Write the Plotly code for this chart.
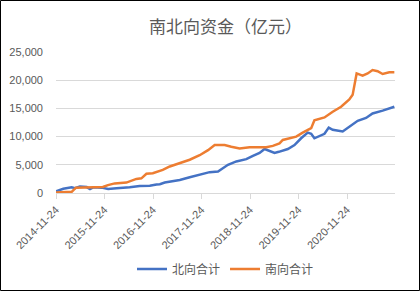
import plotly.graph_objects as go

title_text = "南北向资金（亿元）"
north_name = "北向合计"
south_name = "南向合计"

north_dates = ["2014-11-24", "2015-01-18", "2015-03-22", "2015-04-16", "2015-05-23", "2015-07-13",
               "2015-08-07", "2015-08-31", "2015-11-02", "2015-12-22", "2016-02-23", "2016-06-01",
               "2016-08-15", "2016-10-30", "2016-12-20", "2017-01-14", "2017-02-20", "2017-03-30",
               "2017-06-13", "2017-08-27", "2017-11-10", "2018-01-24", "2018-03-28", "2018-06-11",
               "2018-08-13", "2018-10-27", "2018-12-16", "2019-02-04", "2019-03-14", "2019-04-20",
               "2019-05-28", "2019-06-29", "2019-09-05", "2019-10-25", "2019-12-14", "2020-02-02",
               "2020-02-28", "2020-03-23", "2020-04-30", "2020-06-07", "2020-07-09", "2020-08-08",
               "2020-10-22", "2020-12-11", "2021-02-12", "2021-04-16", "2021-06-04", "2021-08-19",
               "2021-11-15"]
north_values = [300, 750, 1000, 850, 1150, 1050,
                700, 1000, 950, 700, 850, 1000,
                1250, 1300, 1500, 1550, 1850, 2000,
                2300, 2800, 3300, 3700, 3800, 5000,
                5600, 6000, 6600, 7100, 7800, 7500,
                7100, 7300, 7800, 8500, 9700, 10700,
                10500, 9700, 10100, 10500, 11600, 11200,
                10900, 11800, 12800, 13300, 14100, 14600,
                15300]

south_dates = ["2014-11-24", "2015-03-22", "2015-04-23", "2015-11-12", "2015-12-20", "2016-02-09",
               "2016-05-07", "2016-06-14", "2016-07-21", "2016-08-28", "2016-10-05", "2016-11-22",
               "2017-02-05", "2017-03-30", "2017-06-13", "2017-08-27", "2017-11-10", "2018-01-12",
               "2018-03-03", "2018-05-17", "2018-07-06", "2018-09-07", "2018-11-21", "2019-02-04",
               "2019-03-26", "2019-05-15", "2019-07-04", "2019-07-29", "2019-09-18", "2019-11-07",
               "2019-12-26", "2020-02-28", "2020-03-23", "2020-06-07", "2020-08-08", "2020-10-10",
               "2020-12-11", "2021-01-05", "2021-02-04", "2021-03-21", "2021-04-28", "2021-06-04",
               "2021-07-12", "2021-08-19", "2021-10-08", "2021-11-15"]
south_values = [100, 200, 950, 1060, 1400, 1700,
                1850, 2200, 2500, 2600, 3400, 3500,
                4100, 4700, 5300, 5900, 6700, 7600,
                8500, 8500, 8200, 7900, 8100, 8050,
                8100, 8350, 8800, 9400, 9700, 10000,
                10700, 11500, 12900, 13400, 14400, 15300,
                16600, 17400, 21200, 20800, 21200, 21800,
                21600, 21100, 21400, 21400]

x_ticks = ["2014-11-24", "2015-11-24", "2016-11-24", "2017-11-24",
           "2018-11-24", "2019-11-24", "2020-11-24"]
y_ticks = [0, 5000, 10000, 15000, 20000, 25000]

fig = go.Figure()
fig.add_trace(go.Scatter(x=north_dates, y=north_values, mode="lines", name=north_name,
                         line=dict(color="#4472C4", width=2.5)))
fig.add_trace(go.Scatter(x=south_dates, y=south_values, mode="lines", name=south_name,
                         line=dict(color="#ED7D31", width=2.5)))

W, H = 420, 291
L, R, T, B = 56, 25, 52, 98
pw, ph = W - L - R, H - T - B

fig.update_layout(
    width=W, height=H,
    margin=dict(l=L, r=R, t=T, b=B, autoexpand=False),
    paper_bgcolor="white", plot_bgcolor="white",
    title=dict(text=title_text, x=0.5, xanchor="center", xref="paper",
               y=1 - 27 / H, yref="container", yanchor="middle",
               font=dict(family="Noto Sans CJK SC", size=17, color="#595959")),
    xaxis=dict(type="date", range=["2014-11-24", "2021-11-20"],
               tickmode="array", tickvals=x_ticks, ticktext=x_ticks,
               tickangle=-45, showgrid=False, showline=True, linecolor="#D9D9D9",
               linewidth=1, ticks="outside", ticklen=5, tickcolor="#D9D9D9",
               tickfont=dict(family="Liberation Sans", size=11, color="#595959"),
               zeroline=False, automargin=False),
    yaxis=dict(range=[0, 25000], tickmode="array", tickvals=y_ticks,
               tickformat=",", showgrid=True, gridcolor="#D9D9D9", gridwidth=1,
               showline=False, zeroline=False, ticks="", ticklabelstandoff=12,
               tickfont=dict(family="Liberation Sans", size=11, color="#595959"),
               automargin=False),
    legend=dict(orientation="h", x=0.5, xanchor="center", y=(193 - 269) / ph,
                yanchor="middle", font=dict(family="Noto Sans CJK SC", size=12, color="#595959"),
                itemwidth=30, tracegroupgap=0),
    showlegend=True,
    shapes=[dict(type="rect", xref="paper", yref="paper",
                 x0=-(L - 0.5) / pw, x1=(W - 0.5 - L) / pw,
                 y0=(193 - (H - 0.5)) / ph, y1=(193 - 0.5) / ph,
                 line=dict(color="black", width=1), fillcolor="rgba(0,0,0,0)", layer="above")],
)

fig.write_html("out.html")
